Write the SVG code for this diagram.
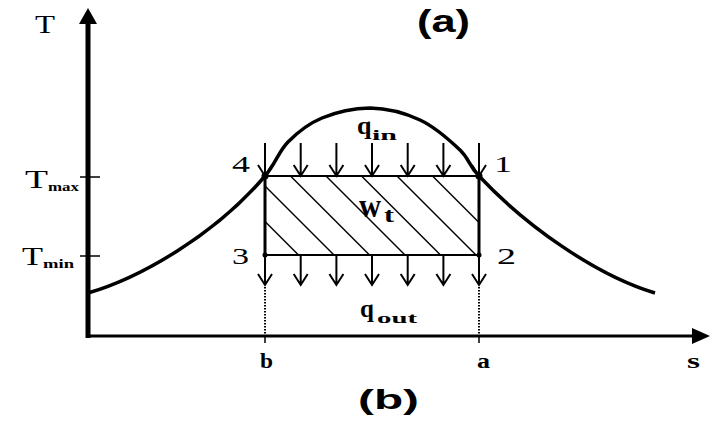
<svg xmlns="http://www.w3.org/2000/svg" width="712" height="423" viewBox="0 0 712 423">
<style>
.ln{stroke:#000;fill:none;stroke-linecap:butt}
.ar{stroke:#000;fill:none;stroke-width:2}
.sr{font-family:"Liberation Serif","Times New Roman",serif;fill:#000}
.ss{font-family:"Liberation Sans",Arial,sans-serif;fill:#000;font-weight:bold}
.b{font-weight:bold}
</style>
<defs>
<path id="arrTop" d="M0,143 V176 M-7,165 L0,176 L7,165"/>
<path id="arrBot" d="M0,255 V285 M-7,274 L0,285 L7,274"/>
</defs>
<rect width="712" height="423" fill="#fff"/>

<g id="axes">
<line class="ln" x1="88" y1="22" x2="88" y2="338" stroke-width="5"/>
<polygon points="88,8 79,24 97,24" fill="#000"/>
<line class="ln" x1="86" y1="336" x2="694" y2="336" stroke-width="3"/>
<polygon points="710,336 692,328 692,344" fill="#000"/>
<line class="ln" x1="80" y1="177" x2="100" y2="177" stroke-width="1.5"/>
<line class="ln" x1="80" y1="256" x2="100" y2="256" stroke-width="1.5"/>
<line class="ln" x1="265" y1="336" x2="265" y2="343" stroke-width="1.5"/>
<line class="ln" x1="479" y1="336" x2="479" y2="343" stroke-width="1.5"/>
</g>

<g id="labels">
<text class="sr" x="35" y="33" font-size="26" textLength="20" lengthAdjust="spacingAndGlyphs">T</text>
<text class="ss" x="417" y="32" font-size="32" textLength="53" lengthAdjust="spacingAndGlyphs">(a)</text>
<text class="sr" x="25" y="188" font-size="26" textLength="23" lengthAdjust="spacingAndGlyphs">T</text>
<text class="sr b" x="48" y="191" font-size="12" textLength="31" lengthAdjust="spacingAndGlyphs">max</text>
<text class="sr" x="22" y="265" font-size="26" textLength="21" lengthAdjust="spacingAndGlyphs">T</text>
<text class="sr b" x="43" y="268" font-size="12" textLength="31" lengthAdjust="spacingAndGlyphs">min</text>
<text class="sr b" x="260" y="368" font-size="20" textLength="13" lengthAdjust="spacingAndGlyphs">b</text>
<text class="sr b" x="477" y="368" font-size="20" textLength="13" lengthAdjust="spacingAndGlyphs">a</text>
<text class="sr b" x="687" y="368" font-size="20" textLength="13" lengthAdjust="spacingAndGlyphs">s</text>
<text class="ss" x="358" y="409" font-size="27" textLength="61" lengthAdjust="spacingAndGlyphs">(b)</text>
</g>

<g id="saturation-curve">
<path class="ln" stroke-width="3.5" d="M88,293 C140,278 215,235 265,176 C275.3,164.2 278.5,151.7 288,142 C297.5,132.3 308.3,123.7 322,118 C335.7,112.3 353.7,108.3 370,108 C386.3,108.3 405,113 420,120 C435,127 450.2,140.7 460,150 C469.8,159.3 469,166.3 479,176 C525,225 595,275 655,293"/>
</g>

<g id="cycle">
<g class="ln" stroke-width="1.4">
<line x1="265" y1="221.5" x2="298.5" y2="255"/>
<line x1="265" y1="186" x2="334" y2="255"/>
<line x1="290.5" y1="176" x2="369.5" y2="255"/>
<line x1="326" y1="176" x2="405" y2="255"/>
<line x1="361.5" y1="176" x2="440.5" y2="255"/>
<line x1="397" y1="176" x2="476" y2="255"/>
<line x1="432.5" y1="176" x2="479" y2="222.5"/>
</g>
<line class="ln" x1="265" y1="176" x2="479" y2="176" stroke-width="2"/>
<line class="ln" x1="265" y1="255" x2="479" y2="255" stroke-width="2"/>
<line class="ln" x1="265" y1="176" x2="265" y2="255" stroke-width="3"/>
<line class="ln" x1="479" y1="176" x2="479" y2="255" stroke-width="3"/>
<text class="sr b" x="359" y="217" font-size="34" textLength="22" lengthAdjust="spacingAndGlyphs">w</text>
<text class="sr b" x="384" y="222" font-size="22" textLength="10" lengthAdjust="spacingAndGlyphs">t</text>
</g>

<g id="point-4"><circle cx="265" cy="176" r="3.5"/><text class="sr" x="232" y="172" font-size="23" textLength="18" lengthAdjust="spacingAndGlyphs">4</text></g>
<g id="point-1"><circle cx="479" cy="176" r="3.5"/><text class="sr" x="494" y="172" font-size="23" textLength="18" lengthAdjust="spacingAndGlyphs">1</text></g>
<g id="point-3"><circle cx="265" cy="255" r="2.5"/><text class="sr" x="232" y="264" font-size="23" textLength="17" lengthAdjust="spacingAndGlyphs">3</text></g>
<g id="point-2"><circle cx="479" cy="255" r="2.5"/><text class="sr" x="497" y="264" font-size="23" textLength="19" lengthAdjust="spacingAndGlyphs">2</text></g>

<g id="heat-in">
<g class="ar">
<use href="#arrTop" x="265"/>
<use href="#arrTop" x="300.7"/>
<use href="#arrTop" x="336.4"/>
<use href="#arrTop" x="372"/>
<use href="#arrTop" x="407.7"/>
<use href="#arrTop" x="443.4"/>
<use href="#arrTop" x="479"/>
</g>
<text class="sr b" x="357" y="134" font-size="26">q</text>
<text class="sr b" x="372" y="140" font-size="14" textLength="25" lengthAdjust="spacingAndGlyphs">in</text>
</g>

<g id="heat-out">
<g class="ar">
<use href="#arrBot" x="265"/>
<use href="#arrBot" x="300.7"/>
<use href="#arrBot" x="336.4"/>
<use href="#arrBot" x="372"/>
<use href="#arrBot" x="407.7"/>
<use href="#arrBot" x="443.4"/>
<use href="#arrBot" x="479"/>
</g>
<text class="sr b" x="360" y="317" font-size="25">q</text>
<text class="sr b" x="377" y="323" font-size="14" textLength="40" lengthAdjust="spacingAndGlyphs">out</text>
</g>

<g id="connectors">
<line class="ln" x1="265" y1="287" x2="265" y2="335" stroke-width="2" stroke-dasharray="1.5 1.5"/>
<line class="ln" x1="479" y1="287" x2="479" y2="335" stroke-width="2" stroke-dasharray="1.5 1.5"/>
</g>
</svg>
